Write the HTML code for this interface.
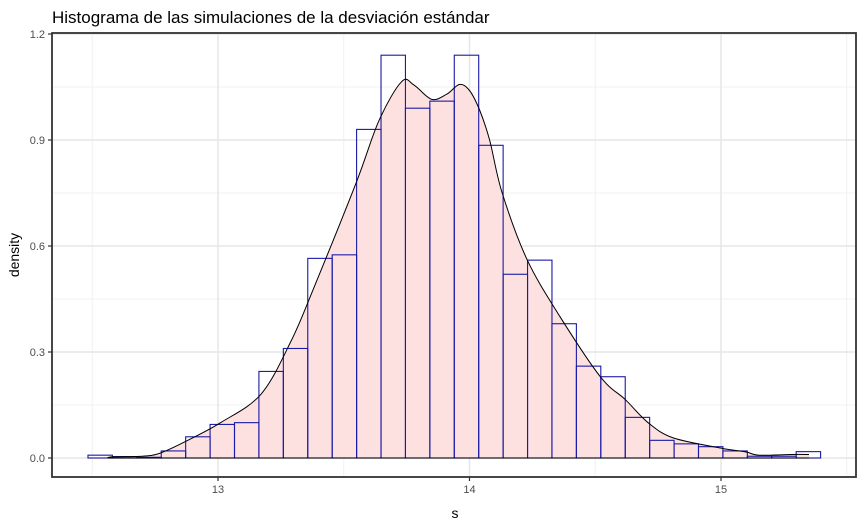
<!DOCTYPE html>
<html><head><meta charset="utf-8"><style>
html,body{margin:0;padding:0;background:#fff;}
svg{display:block;font-family:"Liberation Sans",Arial,sans-serif;}
</style></head><body>
<svg id="chart" width="864" height="525" xmlns="http://www.w3.org/2000/svg">
<text x="52" y="23" font-size="17" fill="#000">Histograma de las simulaciones de la desviación estándar</text>
<g id="grid"></g>
<g id="area"></g>
<g id="bars"></g>
<g id="axes"></g>
<text x="455" y="518" font-size="14" text-anchor="middle" fill="#000">s</text>
<text transform="translate(19,255) rotate(-90)" font-size="14" text-anchor="middle" fill="#000">density</text>
</svg>
<script>
const binStart = 12.483;
const binWidth = 0.0971;
const binDensity = [0.008,0.004,0.002,0.02,0.06,0.095,0.10,0.245,0.31,0.565,0.575,0.93,1.14,0.99,1.01,1.14,0.885,0.52,0.56,0.38,0.26,0.23,0.115,0.05,0.04,0.032,0.02,0.005,0.005,0.018];
const curveS = [12.56,12.58,12.70,12.77,12.88,13.01,13.17,13.29,13.38,13.55,13.64,13.73,13.78,13.85,13.91,13.96,14.0,14.04,14.08,14.13,14.23,14.36,14.52,14.62,14.71,14.81,15.0,15.1,15.15,15.28,15.35];
const curveD = [0.0,0.003,0.005,0.014,0.05,0.10,0.18,0.33,0.48,0.78,0.955,1.065,1.055,1.015,1.03,1.057,1.04,0.985,0.9,0.75,0.56,0.40,0.23,0.165,0.10,0.057,0.028,0.017,0.008,0.01,0.01];
const xTicks = [13,14,15];
const xTickLabels = ["13","14","15"];
const yTicks = [0,0.3,0.6,0.9,1.2];
const yTickLabels = ["0.0","0.3","0.6","0.9","1.2"];
const xMinor = [12.5,13.5,14.5,15.5];
const yMinor = [0.15,0.45,0.75,1.05];

const L=52,R=856,T=33,B=477;
const xs = v => 218 + (v-13)*251.5;
const ys = v => 458 - v*353.33;
const NS="http://www.w3.org/2000/svg";
function mk(tag,attrs,parent){const e=document.createElementNS(NS,tag);for(const k in attrs)e.setAttribute(k,attrs[k]);parent.appendChild(e);return e;}
const grid=document.getElementById('grid');
xMinor.forEach(v=>{const e=mk('line',{x1:xs(v),x2:xs(v),y1:T,y2:B,stroke:'#f0f0f0','stroke-width':1},grid);

});
yMinor.forEach(v=>{const e=mk('line',{x1:L,x2:R,y1:ys(v),y2:ys(v),stroke:'#f0f0f0','stroke-width':1},grid);

});
xTicks.forEach(v=>{const e=mk('line',{x1:xs(v),x2:xs(v),y1:T,y2:B,stroke:'#e6e6e6','stroke-width':1.5},grid);

});
yTicks.forEach(v=>{const e=mk('line',{x1:L,x2:R,y1:ys(v),y2:ys(v),stroke:'#e6e6e6','stroke-width':1.5},grid);

});

const P=curveS.map((s,i)=>[xs(s),ys(curveD[i])]);
let d='M'+P[0][0].toFixed(1)+','+P[0][1].toFixed(1);
for(let i=0;i<P.length-1;i++){const p0=P[Math.max(0,i-1)],p1=P[i],p2=P[i+1],p3=P[Math.min(P.length-1,i+2)];
const c1=[p1[0]+(p2[0]-p0[0])/6,p1[1]+(p2[1]-p0[1])/6],c2=[p2[0]-(p3[0]-p1[0])/6,p2[1]-(p3[1]-p1[1])/6];
d+=' C'+c1.map(v=>v.toFixed(1)).join(',')+' '+c2.map(v=>v.toFixed(1)).join(',')+' '+p2.map(v=>v.toFixed(1)).join(',');}
const area=document.getElementById('area');
const fill=mk('path',{d:'M'+P[0][0]+','+ys(0)+' L'+d.slice(1)+' L'+P[P.length-1][0]+','+ys(0)+' Z',fill:'#fde0e0',stroke:'none'},area);



const bars=document.getElementById('bars');
binDensity.forEach((v,i)=>{const x0=xs(binStart+i*binWidth),x1=xs(binStart+(i+1)*binWidth);
const r=mk('rect',{x:x0,y:ys(v),width:x1-x0,height:ys(0)-ys(v),fill:'none',stroke:'#1a1aa6','stroke-width':1.1},bars);

});
const ax=document.getElementById('chart');
const line=mk('path',{d:d,fill:'none',stroke:'#000','stroke-width':1},ax);


const base=mk('line',{x1:P[0][0],x2:P[P.length-1][0],y1:ys(0),y2:ys(0),stroke:'#000','stroke-width':1},ax);



const frame=mk('rect',{x:L,y:T,width:R-L,height:B-T,fill:'none',stroke:'#333','stroke-width':1.8},ax);


xTicks.forEach((v,i)=>{const t=mk('line',{x1:xs(v),x2:xs(v),y1:B,y2:B+4,stroke:'#333','stroke-width':1.2},ax);


const tx=mk('text',{x:xs(v),y:B+16,'font-size':11,'text-anchor':'middle',fill:'#4d4d4d'},ax);tx.textContent=xTickLabels[i];

});
yTicks.forEach((v,i)=>{const t=mk('line',{x1:L-4,x2:L,y1:ys(v),y2:ys(v),stroke:'#333','stroke-width':1.2},ax);


const tx=mk('text',{x:L-7,y:ys(v)+4,'font-size':11,'text-anchor':'end',fill:'#4d4d4d'},ax);tx.textContent=yTickLabels[i];

});
</script>
</body></html>
